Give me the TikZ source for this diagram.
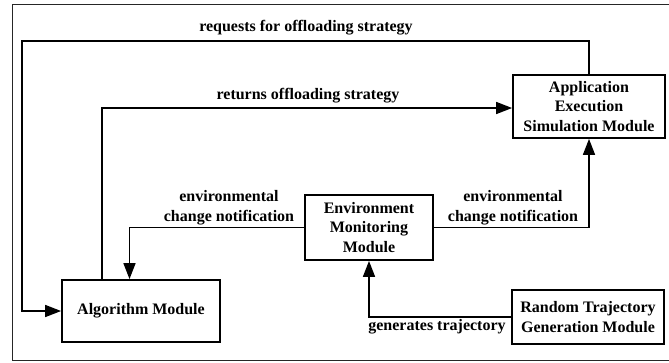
\documentclass[tikz,border=0pt]{standalone}
\usepackage{fontspec}
\setmainfont{Liberation Serif}
\usetikzlibrary{arrows.meta}
\begin{document}
\begin{tikzpicture}[x=1pt,y=-1pt,
  font=\fontsize{16}{19.5}\selectfont\bfseries,
  box/.style={draw,line width=1.8pt,inner sep=0pt,align=center},
  conn/.style={line width=1.6pt},
  arr/.style={conn,-{Triangle[length=16pt,width=12pt]}},
  lbl/.style={inner sep=0pt,align=center}]
\useasboundingbox (0,0) rectangle (669,362);
\draw[line width=0.9pt,black!85] (672,4) -- (12,4) -- (12,360) -- (672,360);

\node[box,minimum width=152pt,minimum height=63pt] (app) at (589,106.5) {Application\\Execution\\Simulation Module};
\node[box,minimum width=158pt,minimum height=62pt] (alg) at (141,311) {Algorithm Module};
\node[box,minimum width=128pt,minimum height=65pt] (env) at (369,227.5) {Environment\\Monitoring\\Module};
\node[box,minimum width=152pt,minimum height=54pt] (rand) at (588,317) {Random Trajectory\\Generation Module};

\coordinate (rq) at (22,41);
\coordinate (rt) at (102,108);
\coordinate (el) at (129.5,0);

\draw[arr] (app.north) |- (rq) |- (alg.west);
\draw[arr] (alg.north -| rt) |- (app.west |- rt);
\draw[arr] (env.west) -| (alg.north -| el);
\draw[arr] (env.east) -| (app.south);
\draw[arr] (rand.west) -| (env.south);

\node[lbl] (lreq) at (306,28) {requests for offloading strategy};
\node[lbl] (lret) at (308,96) {returns offloading strategy};
\node[lbl] (lenv1) at (229,207.5) {environmental\\change notification};
\node[lbl] (lenv2) at (513,207.5) {environmental\\change notification};
\node[lbl] (lgen) at (437,327) {generates trajectory};
\end{tikzpicture}
\end{document}
